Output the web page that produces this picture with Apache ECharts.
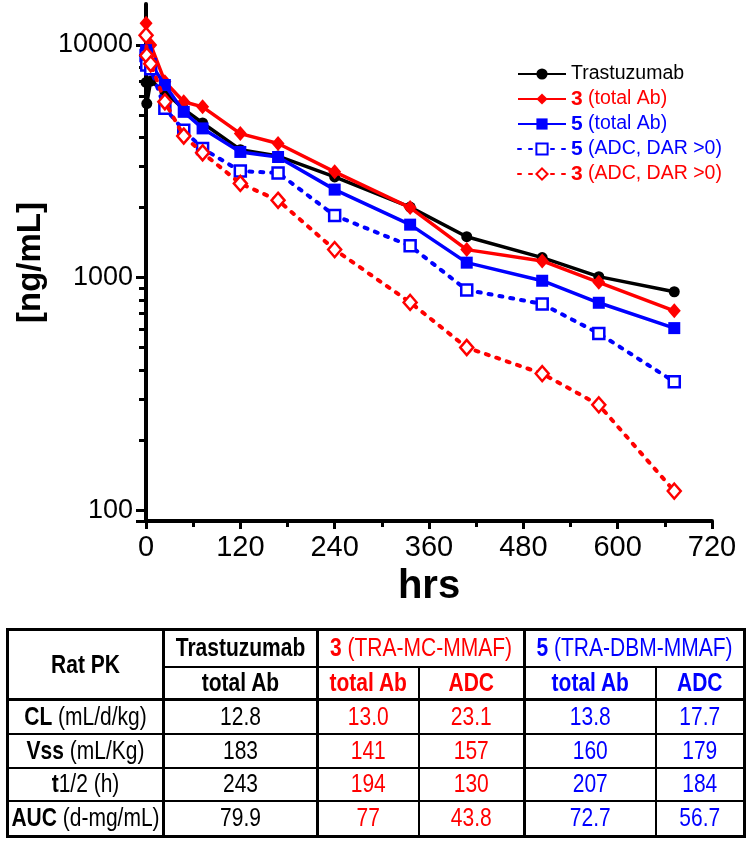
<!DOCTYPE html>
<html><head><meta charset="utf-8">
<script src="https://cdn.jsdelivr.net/npm/echarts@6/dist/echarts.min.js"></script>
<style>
html,body{margin:0;padding:0;background:#fff;}
#chart{position:absolute;left:0;top:0;width:750px;height:841px;}
#pk{position:absolute;left:6px;top:628px;width:737px;border-collapse:collapse;table-layout:fixed;font-family:"Liberation Sans",Arial,Helvetica,sans-serif;border:3px solid #000;}
#pk td{border:2px solid #000;text-align:center;vertical-align:middle;padding:0;font-size:21px;color:#000;white-space:nowrap;overflow:hidden;}
#pk td span.s{display:inline-block;transform:scaleY(1.2);}
#pk .b{font-weight:bold;}
#pk .r{color:#ff0000;}
#pk .u{color:#0000ff;}
#pk .g{border-left:3px solid #000;}
#pk .hb td{border-bottom:3px solid #000;}
</style>
</head><body>
<div id="chart"></div>
<table id="pk">
<colgroup><col style="width:156px"><col style="width:154px"><col style="width:101px"><col style="width:106px"><col style="width:131px"><col style="width:89px"></colgroup>
<tr style="height:37px">
<td rowspan="2" class="b" style="border-bottom:3px solid #000"><span class="s">Rat PK</span></td>
<td class="b g"><span class="s">Trastuzumab</span></td>
<td colspan="2" class="r g"><span class="s"><b>3</b> (TRA-MC-MMAF)</span></td>
<td colspan="2" class="u g"><span class="s"><b>5</b> (TRA-DBM-MMAF)</span></td>
</tr>
<tr style="height:33px" class="hb">
<td class="b g"><span class="s">total Ab</span></td>
<td class="b r g"><span class="s">total Ab</span></td>
<td class="b r"><span class="s">ADC</span></td>
<td class="b u g"><span class="s">total Ab</span></td>
<td class="b u"><span class="s">ADC</span></td>
</tr>
<tr style="height:34px">
<td><span class="s"><b>CL</b> (mL/d/kg)</span></td>
<td class="g"><span class="s">12.8</span></td><td class="r g"><span class="s">13.0</span></td><td class="r"><span class="s">23.1</span></td><td class="u g"><span class="s">13.8</span></td><td class="u"><span class="s">17.7</span></td>
</tr>
<tr style="height:34px">
<td><span class="s"><b>Vss</b> (mL/Kg)</span></td>
<td class="g"><span class="s">183</span></td><td class="r g"><span class="s">141</span></td><td class="r"><span class="s">157</span></td><td class="u g"><span class="s">160</span></td><td class="u"><span class="s">179</span></td>
</tr>
<tr style="height:33px">
<td><span class="s"><b>t</b>1/2 (h)</span></td>
<td class="g"><span class="s">243</span></td><td class="r g"><span class="s">194</span></td><td class="r"><span class="s">130</span></td><td class="u g"><span class="s">207</span></td><td class="u"><span class="s">184</span></td>
</tr>
<tr style="height:36px">
<td><span class="s"><b>AUC</b> (d-mg/mL)</span></td>
<td class="g"><span class="s">79.9</span></td><td class="r g"><span class="s">77</span></td><td class="r"><span class="s">43.8</span></td><td class="u g"><span class="s">72.7</span></td><td class="u"><span class="s">56.7</span></td>
</tr>
</table>
<script>
// ---- data ----
const hours = [0.083, 1, 6, 24, 48, 72, 120, 168, 240, 336, 408, 504, 576, 672];
const trastuzumab = [6900, 5600, 7000, 6300, 5300, 4620, 3550, 3330, 2710, 2010, 1500, 1220, 1010, 870];
const total3 = [12400, 11000, 10000, 6950, 5700, 5420, 4160, 3770, 2850, 2000, 1320, 1180, 955, 720];
const total5 = [9500, 9200, 8300, 6730, 5160, 4380, 3470, 3300, 2390, 1690, 1160, 970, 780, 607];
const adc5 = [9000, 8200, 7900, 5340, 4300, 3590, 2870, 2820, 1850, 1370, 885, 771, 576, 357];
const adc3 = [11000, 9000, 8300, 5700, 4060, 3440, 2540, 2150, 1320, 783, 501, 387, 284, 121];
const seriesNames = ['Trastuzumab', '3 (total Ab)', '5 (total Ab)', '5 (ADC, DAR >0)', '3 (ADC, DAR >0)'];
const yMajorTicks = [90, 100, 1000, 10000];
const yLabels = [100, 1000, 10000];
const yMinorTicks = [200, 300, 400, 500, 600, 700, 800, 900, 2000, 3000, 4000, 5000, 6000, 7000, 8000, 9000];
const xTicks = [0, 120, 240, 360, 480, 600, 720];

const RED = '#ff0000', BLUE = '#0000ff', BLACK = '#000000';
const FONT = '"Liberation Sans", Arial, Helvetica, sans-serif';
function pairs(vals){ return hours.map((h,i)=>[h, vals[i]]); }

const chart = echarts.init(document.getElementById('chart'), null, {renderer:'canvas'});
function legendItem(name, color){
  return {name: name, textStyle: {color: color, rich: {b: {fontWeight: 'bold', color: color, fontSize: 21, fontFamily: FONT}}}};
}
const option = {
  animation: false,
  backgroundColor: '#fff',
  grid: {left: 146, right: 38, top: 4, bottom: 320, containLabel: false},
  legend: {
    orient: 'vertical', left: 512, top: 58,
    itemWidth: 48, itemHeight: 14, itemGap: 3,
    textStyle: {fontSize: 19.5, fontFamily: FONT, lineHeight: 22},
    formatter: function(name){
      if (/^\d/.test(name)) { const i = name.indexOf(' '); return '{b|' + name.slice(0,i) + '}' + name.slice(i); }
      return name;
    },
    data: [legendItem(seriesNames[0], BLACK), legendItem(seriesNames[1], RED), legendItem(seriesNames[2], BLUE), legendItem(seriesNames[3], BLUE), legendItem(seriesNames[4], RED)]
  },
  xAxis: {
    type: 'value', min: 0, max: 720, interval: 120,
    name: 'hrs', nameLocation: 'middle', nameGap: 34,
    nameTextStyle: {fontSize: 40, fontWeight: 'bold', color: BLACK, fontFamily: FONT},
    axisLine: {show: true, lineStyle: {color: BLACK, width: 4}},
    axisTick: {show: true, length: 8, lineStyle: {color: BLACK, width: 3}},
    minorTick: {show: true, splitNumber: 2, length: 6, lineStyle: {color: BLACK, width: 3}},
    axisLabel: {fontSize: 29, color: BLACK, fontFamily: FONT, margin: 12, customValues: xTicks},
    splitLine: {show: false}
  },
  yAxis: [{
    type: 'log', logBase: 10, min: 90, max: 15000,
    name: '[ng/mL]', nameLocation: 'middle', nameGap: 86, nameRotate: 90,
    nameTextStyle: {fontSize: 33, fontWeight: 'bold', color: BLACK, fontFamily: FONT},
    axisLine: {show: true, lineStyle: {color: BLACK, width: 4}},
    axisTick: {show: true, length: 10, lineStyle: {color: BLACK, width: 3}, customValues: yMajorTicks},
    axisLabel: {fontSize: 27, color: BLACK, fontFamily: FONT, margin: 13, customValues: yLabels, formatter: v => String(Math.round(v))},
    splitLine: {show: false}
  }, {
    type: 'log', logBase: 10, min: 90, max: 15000, position: 'left',
    axisLine: {show: false},
    axisTick: {show: true, length: 7, lineStyle: {color: BLACK, width: 3}, customValues: yMinorTicks},
    axisLabel: {show: false},
    splitLine: {show: false}
  }],
  series: [
    {name: seriesNames[0], type: 'line', data: pairs(trastuzumab), symbol: 'circle', symbolSize: 11,
     lineStyle: {color: BLACK, width: 3.5}, itemStyle: {color: BLACK}, z: 2},
    {name: seriesNames[1], type: 'line', data: pairs(total3), symbol: 'diamond', symbolSize: [13, 15],
     lineStyle: {color: RED, width: 3.5}, itemStyle: {color: RED}, z: 3},
    {name: seriesNames[2], type: 'line', data: pairs(total5), symbol: 'rect', symbolSize: 12,
     lineStyle: {color: BLUE, width: 3.5}, itemStyle: {color: BLUE}, z: 4},
    {name: seriesNames[3], type: 'line', data: pairs(adc5), symbol: 'rect', symbolSize: 11,
     lineStyle: {color: BLUE, width: 4, type: [3, 8], cap: 'round'}, itemStyle: {color: '#fff', borderColor: BLUE, borderWidth: 2.5}, z: 5},
    {name: seriesNames[4], type: 'line', data: pairs(adc3), symbol: 'diamond', symbolSize: [13, 15],
     lineStyle: {color: RED, width: 4, type: [3, 8], cap: 'round'}, itemStyle: {color: '#fff', borderColor: RED, borderWidth: 2.5}, z: 6}
  ]
};
chart.setOption(option);
</script>
</body></html>
